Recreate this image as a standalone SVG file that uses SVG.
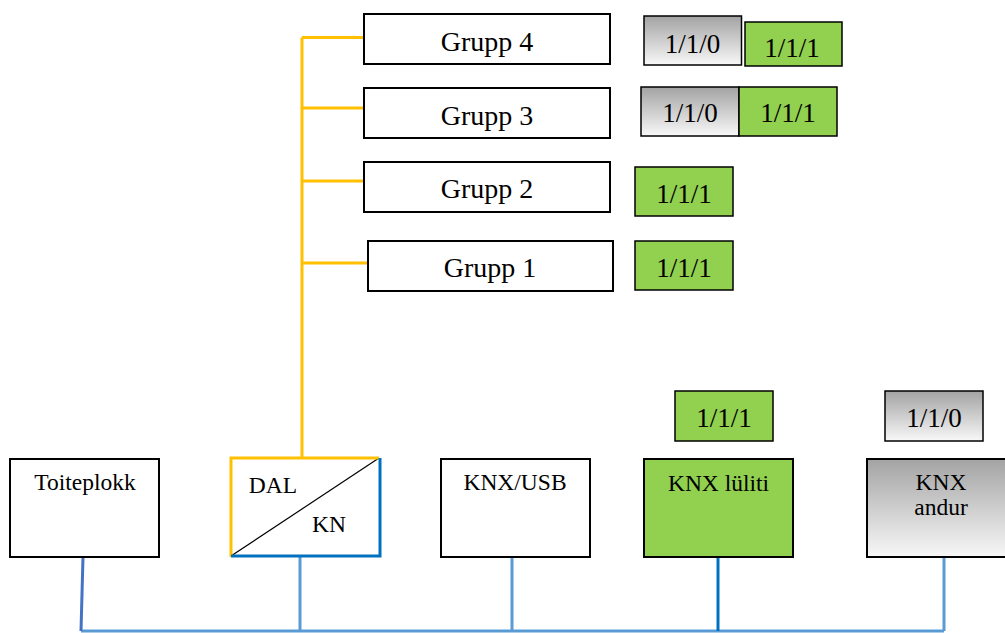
<svg xmlns="http://www.w3.org/2000/svg" width="1005" height="633" viewBox="0 0 1005 633">
<defs>
<linearGradient id="gray" x1="0" y1="0" x2="0" y2="1">
<stop offset="0" stop-color="#a3a3a3"/>
<stop offset="1" stop-color="#f8f8f8"/>
</linearGradient>
<style>
.box{fill:#fff;stroke:#000;stroke-width:2}
.grn{fill:#92d050;stroke:#000;stroke-width:1.5}
.gry{fill:url(#gray);stroke:#000;stroke-width:1.5}
text{fill:#000;text-anchor:middle}
.g{font-size:28px}
.l{font-size:27px}
.b{font-size:23.5px}
.yl{stroke:#ffc000;stroke-width:3;fill:none}
.bl{stroke:#5b9bd5;stroke-width:3;fill:none}
</style>
</defs>
<rect width="1005" height="633" fill="#fff"/>
<g id="connectors">
<path class="yl" d="M302 458V37.5M302 37.5H364M302 108H364M302 181H364M302 263H368"/>
<path class="bl" d="M81 631H944"/>
<path d="M83 557L81 631" stroke="#4472c4" stroke-width="3" fill="none"/>
<path class="bl" d="M300 557V631M512 557V631M944 557V631"/>
<path d="M718 557V631" stroke="#0070c0" stroke-width="3" fill="none"/>
</g>
<g font-family="Liberation Serif, DejaVu Serif, serif">
<g id="grupp4"><rect class="box" x="364" y="14" width="246" height="50"/><text class="g" x="487" y="51">Grupp 4</text></g>
<g id="grupp3"><rect class="box" x="364" y="88" width="246" height="50"/><text class="g" x="487" y="125">Grupp 3</text></g>
<g id="grupp2"><rect class="box" x="364" y="162" width="246" height="50"/><text class="g" x="487" y="198">Grupp 2</text></g>
<g id="grupp1"><rect class="box" x="368" y="241" width="245" height="50"/><text class="g" x="490" y="277">Grupp 1</text></g>
<g id="g4-labels">
<rect class="gry" x="644" y="16" width="97.5" height="49"/><text class="l" x="692.5" y="53">1/1/0</text>
<rect class="grn" x="745" y="22" width="97" height="44"/><text class="l" x="792" y="57">1/1/1</text>
</g>
<g id="g3-labels">
<rect class="gry" x="641" y="87" width="98" height="49"/><text class="l" x="690" y="122">1/1/0</text>
<rect class="grn" x="739" y="87" width="98" height="49"/><text class="l" x="788" y="122">1/1/1</text>
</g>
<g id="g2-label"><rect class="grn" x="635" y="167" width="98" height="49"/><text class="l" x="684" y="203">1/1/1</text></g>
<g id="g1-label"><rect class="grn" x="635" y="241" width="98" height="49"/><text class="l" x="684" y="277">1/1/1</text></g>
<g id="toiteplokk"><rect class="box" x="10" y="459" width="149" height="98"/><text class="b" x="85" y="490">Toiteplokk</text></g>
<g id="dal-kn">
<rect x="231" y="458" width="148" height="98" fill="#fff"/>
<path d="M231 556L379 458" stroke="#000" stroke-width="1.2"/>
<path class="yl" d="M231 557V458H379"/>
<path d="M231 556H380V458" stroke="#0070c0" stroke-width="3" fill="none"/>
<text class="b" x="273" y="493">DAL</text>
<text class="b" x="329" y="532">KN</text>
</g>
<g id="knx-usb"><rect class="box" x="441" y="459" width="149" height="98"/><text class="b" x="515" y="490">KNX/USB</text></g>
<g id="knx-luliti">
<rect class="grn" x="675" y="391" width="98" height="50"/><text class="l" x="724" y="427">1/1/1</text>
<rect class="box" x="644" y="459" width="149" height="98" style="fill:#92d050"/><text class="b" x="718.5" y="491">KNX lüliti</text>
</g>
<g id="knx-andur">
<rect class="gry" x="885" y="391" width="98" height="50"/><text class="l" x="934" y="427">1/1/0</text>
<rect class="box" x="867" y="459" width="150" height="98" style="fill:url(#gray)"/>
<text class="b" x="941" y="490">KNX</text><text class="b" x="941" y="515">andur</text>
</g>
</g>
</svg>
